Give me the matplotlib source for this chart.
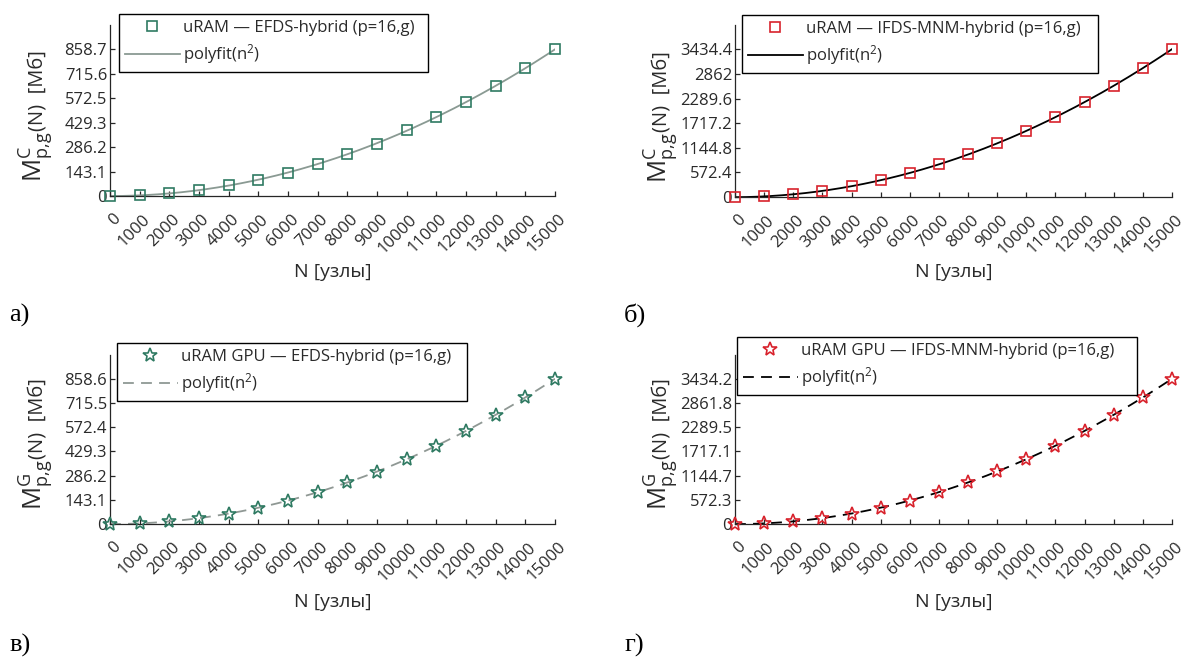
import numpy as np
import matplotlib
matplotlib.use("Agg")
import matplotlib.pyplot as plt
from matplotlib.transforms import ScaledTranslation

plt.rcParams['font.family'] = ['Open Sans', 'DejaVu Sans']
plt.rcParams['mathtext.fontset'] = 'custom'
plt.rcParams['mathtext.rm'] = 'Open Sans'
plt.rcParams['mathtext.it'] = 'Open Sans'

# ---------------- data ----------------
N = [0, 1000, 2000, 3000, 4000, 5000, 6000, 7000, 8000,
     9000, 10000, 11000, 12000, 13000, 14000, 15000]
m_cpu_efds = [0, 4, 15, 33, 62, 96, 136, 187, 245, 307, 384, 463, 549, 643, 747, 858.7]
m_cpu_ifds = [0, 15, 62, 139, 248, 388, 556, 760, 992, 1250, 1540, 1862, 2208, 2590, 2998, 3434.4]
m_gpu_efds = [0, 4, 15, 34, 61, 96, 137, 188, 246, 310, 385, 464, 551, 646, 749, 858.6]
m_gpu_ifds = [0, 15, 61, 138, 246, 386, 552, 754, 985, 1245, 1535, 1855, 2205, 2588, 2995, 3434.2]

yticks_a = [0, 143.1, 286.2, 429.3, 572.5, 715.6, 858.7]
yticks_b = [0, 572.4, 1144.8, 1717.2, 2289.6, 2862, 3434.4]
yticks_c = [0, 143.1, 286.2, 429.3, 572.4, 715.5, 858.6]
yticks_d = [0, 572.3, 1144.7, 1717.1, 2289.5, 2861.8, 3434.2]

labels_series = ["uRAM — EFDS-hybrid (p=16,g)",
                 "uRAM — IFDS-MNM-hybrid (p=16,g)",
                 "uRAM GPU — EFDS-hybrid (p=16,g)",
                 "uRAM GPU — IFDS-MNM-hybrid (p=16,g)"]
fit_label = "polyfit(n$^2$)"
panel_letters = ["а)", "б)", "в)", "г)"]
xlabel = "N [узлы]"

# ---------------- figure ----------------
W, H = 1184, 658
fig = plt.figure(figsize=(W / 100, H / 100), dpi=100)
renderer = fig.canvas.get_renderer()

def rect(l, t, r, b):
    return [l / W, 1 - b / H, (r - l) / W, (b - t) / H]

GREEN = '#2f7a62'
RED = '#d8222c'
TXT = '#2a2a2a'

panels = [
    dict(rect=rect(110, 25, 555, 196), y=m_cpu_efds, yt=yticks_a, lab=labels_series[0],
         marker='s', mc=GREEN, ms=7, lc='#8a9a93', ls='-', sup='C',
         leg=(119, 14, 428), letter=(9, 322), xl_y=272),
    dict(rect=rect(735, 25, 1172, 197), y=m_cpu_ifds, yt=yticks_b, lab=labels_series[1],
         marker='s', mc=RED, ms=7, lc='black', ls='-', sup='C',
         leg=(742, 15, 1098), letter=(624, 322), xl_y=272),
    dict(rect=rect(110, 355, 555, 524), y=m_gpu_efds, yt=yticks_c, lab=labels_series[2],
         marker='*', mc=GREEN, ms=10, lc='#8f9894', ls='--', sup='G',
         leg=(117, 343, 467), letter=(9, 652), xl_y=602),
    dict(rect=rect(735, 355, 1172, 524), y=m_gpu_ifds, yt=yticks_d, lab=labels_series[3],
         marker='*', mc=RED, ms=10, lc='black', ls='--', sup='G',
         leg=(737, 337, 1137), letter=(624, 652), xl_y=602),
]

for i, p in enumerate(panels):
    ax = fig.add_axes(p['rect'])
    x = np.array(N, dtype=float)
    y = np.array(p['y'], dtype=float)
    coef = np.polyfit(x, y, 2)
    xf = np.linspace(x.min(), x.max(), 300)
    yf = np.polyval(coef, xf)

    hm, = ax.plot(x, y, linestyle='none', marker=p['marker'], ms=p['ms'],
                  mfc='none', mec=p['mc'], mew=1.2, clip_on=False, zorder=3,
                  label=p['lab'])
    if p['ls'] == '--':
        hl, = ax.plot(xf, yf, color=p['lc'], lw=1.3, dashes=(6, 4), zorder=2,
                      label=fit_label)
    else:
        hl, = ax.plot(xf, yf, color=p['lc'], lw=1.3, zorder=2, label=fit_label)

    ymax = p['yt'][-1]
    ax.set_xlim(0, 15000)
    ax.set_ylim(0, ymax * 1.165)
    ax.set_xticks(N)
    ax.set_xticklabels([str(v) for v in N])
    ax.set_yticks(p['yt'])
    ax.set_yticklabels([f"{v:g}" for v in p['yt']])

    for s in ['top', 'right']:
        ax.spines[s].set_visible(False)
    for s in ['left', 'bottom']:
        ax.spines[s].set_color('#262626')
        ax.spines[s].set_linewidth(0.9)
    ax.tick_params(direction='in', length=3.5, width=0.9, colors='#262626',
                   labelsize=12, labelcolor=TXT)
    ax.tick_params(axis='y', pad=2)
    ax.tick_params(axis='x', pad=15)
    off = ScaledTranslation(8 / 100, 0, fig.dpi_scale_trans)
    for lab in ax.get_xticklabels():
        lab.set_rotation(45)
        lab.set_ha('right')
        lab.set_va('center')
        lab.set_rotation_mode('anchor')
        lab.set_transform(lab.get_transform() + off)

    # x label
    l, b, w, h = p['rect']
    fig.text(l + w / 2, 1 - p['xl_y'] / H, xlabel, ha='center', va='center',
             fontsize=14, color=TXT)

    # y label in two pieces (large M with sup/sub, then "(N)  [Мб]")
    xl = (l * W) - 68
    ybot = (1 - b) * H - 14
    t1 = fig.text(xl / W, 1 - ybot / H,
                  r"$\mathrm{M}^{\mathrm{%s}}_{\mathrm{p{,}g}}$" % p['sup'],
                  rotation=90, rotation_mode='anchor', ha='left', va='baseline',
                  fontsize=18.5, color=TXT)
    bb = t1.get_window_extent(renderer)
    fig.text(xl / W, (bb.y1 + 1) / H, "(N)  [Мб]",
             rotation=90, rotation_mode='anchor', ha='left', va='baseline',
             fontsize=14.5, color=TXT)

    # legend
    lx0, ly0, lx1 = p['leg']
    leg = fig.legend([hm, hl], [p['lab'], fit_label], loc='upper left',
                     bbox_to_anchor=(lx0 / W, 0, (lx1 - lx0) / W, 1 - ly0 / H),
                     mode='expand', borderaxespad=0, fontsize=12,
                     frameon=True, fancybox=False, framealpha=1, edgecolor='black',
                     handlelength=3.3, handletextpad=0.2, borderpad=0.35,
                     labelspacing=0.4, numpoints=1)
    leg.get_frame().set_linewidth(1.0)
    for t in leg.get_texts():
        t.set_color(TXT)

    # panel letter
    fig.text(p['letter'][0] / W, 1 - p['letter'][1] / H, panel_letters[i],
             ha='left', va='baseline', fontsize=19,
             family=['Liberation Serif', 'DejaVu Serif'], color='black')

fig.savefig('out.png', dpi=100)
